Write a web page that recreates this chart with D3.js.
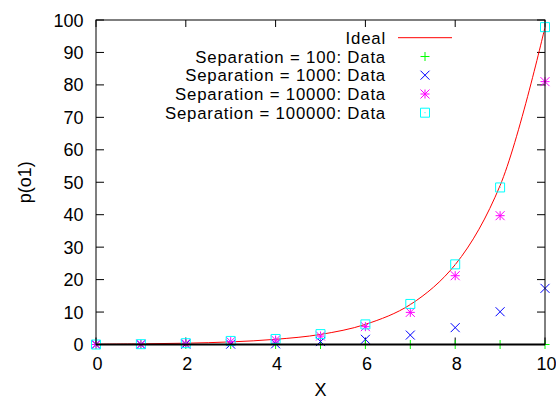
<!DOCTYPE html>
<html>
<head>
<meta charset="utf-8">
<script src="https://cdn.jsdelivr.net/npm/d3@7"></script>
<style>
  body { margin: 0; background: #fff; }
  text { font-family: "Liberation Sans", Arial, sans-serif; font-size: 18px; fill: #000; }
  .legend text { font-size: 16.8px; letter-spacing: 0.8px; }
</style>
</head>
<body>
<script>
var width = 556,
    height = 399,
    margin = {top: 20, right: 11, bottom: 54.5, left: 96};

// values
var xs = [0, 1, 2, 3, 4, 5, 6, 7, 8, 9, 10];
var ideal = [0.1, 0.2, 0.4, 0.8, 1.6, 3.1, 6.2, 12.3, 24.6, 49, 97.8];
var sep100 = [0, 0, 0, 0, 0, 0, 0, 0, 0, 0, 0];
var sep1000 = [0, 0, 0.1, 0.1, 0.2, 0.9, 1.6, 2.9, 5.2, 10.1, 17.3];
var sep10000 = [0, 0.1, 0.3, 0.9, 1.4, 2.6, 5.5, 9.9, 21.2, 39.7, 81];
var sep100000 = [0, 0.1, 0.4, 1.1, 1.7, 3.2, 6.2, 12.5, 24.7, 48.4, 97.8];
var xTicks = [0, 2, 4, 6, 8, 10];
var yTicks = [0, 10, 20, 30, 40, 50, 60, 70, 80, 90, 100];

var series = [
  {name: "Separation = 100: Data", values: sep100, color: "#00ff00", sym: "plus"},
  {name: "Separation = 1000: Data", values: sep1000, color: "#0000ff", sym: "cross"},
  {name: "Separation = 10000: Data", values: sep10000, color: "#ff00ff", sym: "star"},
  {name: "Separation = 100000: Data", values: sep100000, color: "#00ffff", sym: "box"}
];

var xScale = d3.scaleLinear()
    .domain([0, 10])
    .range([margin.left, width - margin.right]);

var yScale = d3.scaleLinear()
    .domain([0, 100])
    .range([height - margin.bottom, margin.top]);

var svg = d3.select("body")
    .append("svg")
    .attr("width", width)
    .attr("height", height);

// ticks (inward, mirrored on top and right)
var tk = 7;
var x0 = xScale(0), x1 = xScale(10), y0 = yScale(0), y1 = yScale(100);

svg.selectAll(".xtick")
    .data(xTicks)
    .enter()
    .append("path")
    .attr("d", function(d) {
      var x = xScale(d);
      return "M" + x + "," + y0 + "v" + (-tk) + "M" + x + "," + y1 + "v" + tk;
    })
    .attr("stroke", "#000")
    .attr("stroke-width", 1);

svg.selectAll(".ytick")
    .data(yTicks)
    .enter()
    .append("path")
    .attr("d", function(d) {
      var y = yScale(d);
      return "M" + x0 + "," + y + "h" + (tk + 1) + "M" + x1 + "," + y + "h" + (-tk - 1);
    })
    .attr("stroke", "#000")
    .attr("stroke-width", 1);

// tick labels
svg.selectAll(".xlabel")
    .data(xTicks)
    .enter()
    .append("text")
    .attr("x", function(d) { return xScale(d) + 1.5; })
    .attr("y", 370)
    .attr("text-anchor", "middle")
    .text(function(d) { return d; });

svg.selectAll(".ylabel")
    .data(yTicks)
    .enter()
    .append("text")
    .attr("x", 83.5)
    .attr("y", function(d) { return yScale(d) + 6.5; })
    .attr("text-anchor", "end")
    .text(function(d) { return d; });

// axis titles
svg.append("text")
    .attr("x", (x0 + x1) / 2)
    .attr("y", 396)
    .attr("text-anchor", "middle")
    .text("X");

svg.append("text")
    .attr("transform", "translate(31," + ((y0 + y1) / 2) + ") rotate(-90)")
    .attr("text-anchor", "middle")
    .text("p(o1)");

// ideal curve
var line = d3.line()
    .x(function(d, i) { return xScale(xs[i]); })
    .y(function(d) { return yScale(d); })
    .curve(d3.curveCatmullRom.alpha(0.5));

svg.append("path")
    .datum(ideal)
    .attr("d", line)
    .attr("fill", "none")
    .attr("stroke", "#ff0000")
    .attr("stroke-width", 1);

// point symbols
function symbolPath(sym, cx, cy) {
  var r = 4.5;
  var plus = "M" + (cx - r) + "," + cy + "h" + (2 * r) + "M" + cx + "," + (cy - r) + "v" + (2 * r);
  var cross = "M" + (cx - r) + "," + (cy - r) + "l" + (2 * r) + "," + (2 * r) +
              "M" + (cx - r) + "," + (cy + r) + "l" + (2 * r) + "," + (-2 * r);
  if (sym == "plus") return plus;
  if (sym == "cross") return cross;
  if (sym == "star") return plus + cross;
  return "M" + (cx - r) + "," + (cy - r) + "h" + (2 * r) + "v" + (2 * r) + "h" + (-2 * r) + "Z" +
         "M" + (cx - 0.5) + "," + cy + "h1";
}

series.forEach(function(s) {
  svg.append("g")
    .selectAll("path")
    .data(s.values)
    .enter()
    .append("path")
    .attr("d", function(d, i) { return symbolPath(s.sym, xScale(xs[i]), yScale(d)); })
    .attr("fill", "none")
    .attr("stroke", s.color)
    .attr("stroke-width", 1);
});

// border
svg.append("rect")
    .attr("x", x0)
    .attr("y", y1)
    .attr("width", x1 - x0)
    .attr("height", y0 - y1)
    .attr("fill", "none")
    .attr("stroke", "#000")
    .attr("stroke-width", 1);

svg.append("line")
    .attr("x1", x0).attr("x2", x1)
    .attr("y1", y0).attr("y2", y0)
    .attr("stroke", "#000")
    .attr("stroke-width", 2);

// legend
var legY = [37.7, 56.5, 75.2, 94, 112.7];
var legTextX = 386, legSymX = 425;
var legend = svg.append("g").attr("class", "legend");

legend.append("text")
    .attr("x", legTextX)
    .attr("y", legY[0] + 6)
    .attr("text-anchor", "end")
    .text("Ideal");

legend.append("line")
    .attr("x1", 398).attr("x2", 452)
    .attr("y1", legY[0]).attr("y2", legY[0])
    .attr("stroke", "#ff0000")
    .attr("stroke-width", 1);

series.forEach(function(s, i) {
  var y = legY[i + 1];
  legend.append("text")
    .attr("x", legTextX)
    .attr("y", y + 6)
    .attr("text-anchor", "end")
    .text(s.name);
  legend.append("path")
    .attr("d", symbolPath(s.sym, legSymX, y))
    .attr("fill", "none")
    .attr("stroke", s.color)
    .attr("stroke-width", 1);
});
</script>
</body>
</html>
